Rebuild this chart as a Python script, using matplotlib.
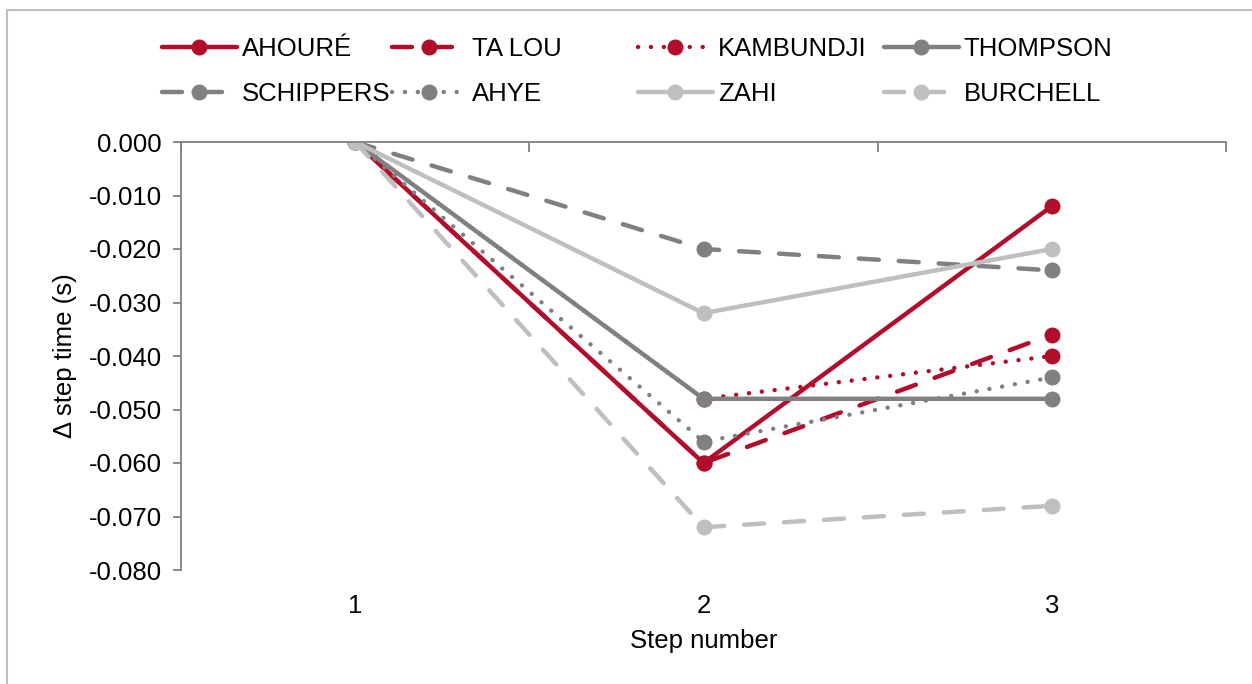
import numpy as np
import matplotlib.pyplot as plt
from matplotlib.patches import Rectangle

plt.rcParams['font.family'] = ['Liberation Sans', 'DejaVu Sans']

steps = [1, 2, 3]
names = ['AHOURÉ', 'TA LOU', 'KAMBUNDJI', 'THOMPSON',
         'SCHIPPERS', 'AHYE', 'ZAHI', 'BURCHELL']
ahoure = [0.000, -0.060, -0.012]
ta_lou = [0.000, -0.060, -0.036]
kambundji = [0.000, -0.048, -0.040]
thompson = [0.000, -0.048, -0.048]
schippers = [0.000, -0.020, -0.024]
ahye = [0.000, -0.056, -0.044]
zahi = [0.000, -0.032, -0.020]
burchell = [0.000, -0.072, -0.068]
series = [ahoure, ta_lou, kambundji, thompson, schippers, ahye, zahi, burchell]
yticks = [-0.08, -0.07, -0.06, -0.05, -0.04, -0.03, -0.02, -0.01, 0.0]
ytick_labels = ['-0.080', '-0.070', '-0.060', '-0.050', '-0.040',
                '-0.030', '-0.020', '-0.010', '0.000']

red = '#B20E2B'
grey = '#808080'
light = '#BFBFBF'
colors = [red, red, red, grey, grey, grey, light, light]
styles = ['solid', 'dash', 'dot', 'solid', 'dash', 'dot', 'solid', 'dash']

fs = 18.5
lw = 3.2

def dashes(s):
    if s == 'dash':
        return (4.5, 4.5)
    if s == 'dot':
        return (0.01, 2.9)
    return None

fig = plt.figure(figsize=(12.52, 6.84), dpi=100)
ax = fig.add_axes([181/1252, 1 - 570/684, 1045/1252, 428/684])

handles = []
for vals, name, c, s in zip(series, names, colors, styles):
    ln, = ax.plot(steps, vals, color=c, lw=lw, marker='o', ms=10.5,
                  solid_capstyle='round', dash_capstyle='round', label=name)
    d = dashes(s)
    if d is not None:
        ln.set_dashes(d)
    handles.append(ln)

ax.set_xlim(0.5, 3.5)
ax.set_ylim(-0.08, 0.0)
ax.set_yticks(yticks)
ax.set_yticklabels(ytick_labels)
ax.set_xticks(steps)
ax.set_xticklabels(['1', '2', '3'])

for sp in ['right', 'bottom']:
    ax.spines[sp].set_visible(False)
for sp in ['left', 'top']:
    ax.spines[sp].set_color(grey)
    ax.spines[sp].set_linewidth(1.3)

ax.tick_params(axis='y', direction='out', length=6, width=1.3, color=grey,
               labelsize=fs, pad=8)
ax.tick_params(axis='x', length=0, labelsize=fs, pad=17)

# category boundary ticks on the zero line
top = ax.secondary_xaxis('top')
top.set_xticks([0.5, 1.5, 2.5, 3.5])
top.tick_params(direction='in', length=7, width=1.3, color=grey, labeltop=False)
top.spines['top'].set_visible(False)

ax.set_xlabel('Step number', fontsize=fs, labelpad=8)
ax.set_ylabel('Δ step time (s)', fontsize=fs, labelpad=8)

# legend, laid out in four fixed columns
col_x = [162, 392, 638, 884]
for i, x in enumerate(col_x):
    fig.legend([handles[i], handles[i + 4]], [names[i], names[i + 4]],
               loc='center left', bbox_to_anchor=(x/1252, 1 - 71.5/684),
               frameon=False, fontsize=fs, handlelength=2.9,
               handletextpad=0.2, borderpad=0, borderaxespad=0,
               labelspacing=0.85)

fig.patches.append(Rectangle((7/1252, -0.1), 1.2, 0.1 + 674/684,
                             transform=fig.transFigure, fill=False,
                             edgecolor=light, lw=1.5))

fig.savefig('out.png', dpi=100)
